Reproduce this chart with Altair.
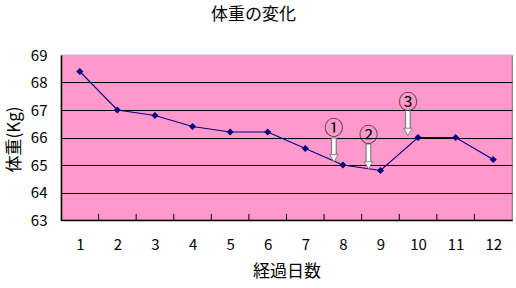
import altair as alt
import pandas as pd

# ---- data ----
days = [1, 2, 3, 4, 5, 6, 7, 8, 9, 10, 11, 12]
weight = [68.4, 67.0, 66.8, 66.4, 66.2, 66.2, 65.6, 65.0, 64.8, 66.0, 66.0, 65.2]
y_ticks = [63, 64, 65, 66, 67, 68, 69]
band_edges = [1.5, 2.5, 3.5, 4.5, 5.5, 6.5, 7.5, 8.5, 9.5, 10.5, 11.5]

ann_label = ["①", "②", "③"]
ann_x = [7.76, 8.68, 9.73]
ann_tail = [66.0, 65.78, 67.0]
ann_tip = [65.1, 64.84, 66.06]
ann_label_y = [66.3, 66.04, 67.27]

FONT = "Noto Sans CJK JP"
PINK = "#FF99CC"
NAVY = "#000080"

df = pd.DataFrame({"day": days, "weight": weight})
df_edges = pd.DataFrame({"edge": band_edges})
df_ann = pd.DataFrame({"label": ann_label, "x": ann_x, "tail": ann_tail,
                       "tip": ann_tip, "ly": ann_label_y})

W, H = 451, 165

xscale = alt.Scale(domain=[0.5, 12.5], nice=False, zero=False)
yscale = alt.Scale(domain=[63, 69], nice=False, zero=False)

x_axis = alt.Axis(values=days, tickCount=12, format="d", title="経過日数", grid=False,
                  ticks=False, tickSize=0, labelPadding=17, labelFontSize=15,
                  labelFont=FONT, labelColor="black", domainColor="black",
                  domainWidth=1.5, titleFont=FONT, titleFontSize=17,
                  titleFontWeight="normal", titleColor="black", titleX=W / 2,
                  titleY=51, titleBaseline="middle", labelFlush=False,
                  labelOverlap=False)
y_axis = alt.Axis(values=y_ticks, tickCount=7, format="d", title="体重(Kg)", grid=True,
                  gridColor={"condition": {"test": "datum.value === 69", "value": PINK},
                             "value": "black"},
                  gridWidth=1.2, ticks=False, tickSize=0, labelPadding=14,
                  labelFontSize=15, labelFont=FONT, labelColor="black",
                  domainColor="black", domainWidth=1.5,
                  titleFont=FONT, titleFontSize=17, titleFontWeight="normal",
                  titleColor="black", titleX=-47, titleY=84, titleBaseline="middle",
                  titleAngle=270, labelFlush=False, labelOverlap=False)

xq = lambda f: alt.X(f, scale=xscale, axis=x_axis)
yq = lambda f: alt.Y(f, scale=yscale, axis=y_axis)

line = alt.Chart(df).mark_line(color=NAVY, strokeWidth=1.1).encode(
    x=xq("day:Q"), y=yq("weight:Q"),
)
pts = alt.Chart(df).mark_point(shape="diamond", filled=True, color=NAVY, size=50,
                               opacity=1).encode(x=xq("day:Q"), y=yq("weight:Q"))
ticks = alt.Chart(df_edges).mark_rule(color="black", strokeWidth=1).encode(
    x=xq("edge:Q"),
    y=alt.value(H),
    y2=alt.value(H - 6),
)
shaft_out = alt.Chart(df_ann).mark_rule(color="#808080", strokeWidth=6,
                                        y2Offset=-5).encode(
    x=xq("x:Q"), y=yq("tail:Q"), y2="tip:Q",
)
shaft_in = alt.Chart(df_ann).mark_rule(color="white", strokeWidth=3.5,
                                       yOffset=1, y2Offset=-4).encode(
    x=xq("x:Q"), y=yq("tail:Q"), y2="tip:Q",
)
head = alt.Chart(df_ann).mark_point(shape="triangle-down", filled=True, fill="white",
                                    stroke="#808080", strokeWidth=1, size=70,
                                    opacity=1, yOffset=-4).encode(
    x=xq("x:Q"), y=yq("tip:Q"),
)
labels = alt.Chart(df_ann).mark_text(font=FONT, fontSize=19, color="black",
                                     baseline="middle", align="center").encode(
    x=xq("x:Q"), y=yq("ly:Q"), text="label:N",
)

chart = alt.layer(line, ticks, pts, shaft_out, shaft_in, head, labels).properties(
    width=W, height=H,
    title=alt.TitleParams("体重の変化", font=FONT, fontSize=17, fontWeight="normal",
                          color="black", anchor="middle", dx=-33, offset=24),
    autosize=alt.AutoSizeParams(type="none"),
    padding={"left": 61, "top": 55, "right": 4, "bottom": 68},
    background="white",
).configure_view(fill=PINK, stroke="#808080", strokeWidth=1.2)

chart.save("out.html", embed_options={"renderer": "svg", "actions": False})
